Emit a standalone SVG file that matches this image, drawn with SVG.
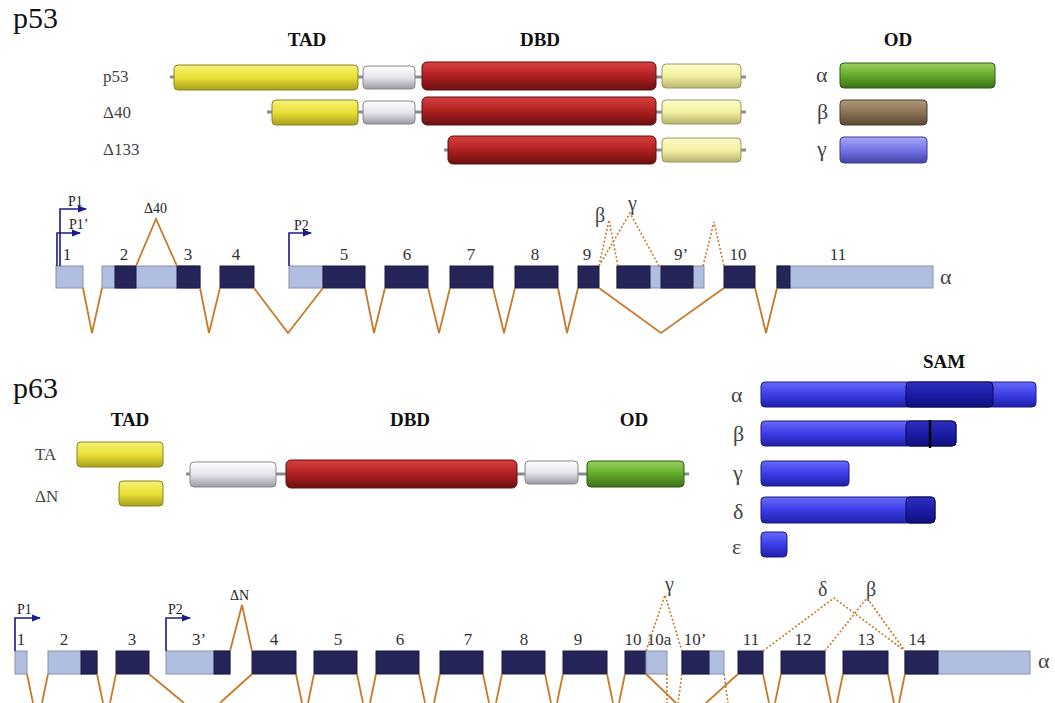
<svg xmlns="http://www.w3.org/2000/svg" width="1055" height="703" viewBox="0 0 1055 703">
<defs>
<linearGradient id="gY" x1="0" y1="0" x2="0" y2="1"><stop offset="0" stop-color="#f7f27a"/><stop offset="0.5" stop-color="#e8e034"/><stop offset="1" stop-color="#a8a020"/></linearGradient>
<linearGradient id="gW" x1="0" y1="0" x2="0" y2="1"><stop offset="0" stop-color="#ffffff"/><stop offset="0.5" stop-color="#e4e4ea"/><stop offset="1" stop-color="#9a9aa6"/></linearGradient>
<linearGradient id="gR" x1="0" y1="0" x2="0" y2="1"><stop offset="0" stop-color="#d84040"/><stop offset="0.5" stop-color="#b02020"/><stop offset="1" stop-color="#6a1010"/></linearGradient>
<linearGradient id="gLY" x1="0" y1="0" x2="0" y2="1"><stop offset="0" stop-color="#fdfcc8"/><stop offset="0.5" stop-color="#f3f0a0"/><stop offset="1" stop-color="#b8b470"/></linearGradient>
<linearGradient id="gG" x1="0" y1="0" x2="0" y2="1"><stop offset="0" stop-color="#9ad060"/><stop offset="0.5" stop-color="#62aa2a"/><stop offset="1" stop-color="#3c7018"/></linearGradient>
<linearGradient id="gBr" x1="0" y1="0" x2="0" y2="1"><stop offset="0" stop-color="#b09a7a"/><stop offset="0.5" stop-color="#8a7255"/><stop offset="1" stop-color="#5a4835"/></linearGradient>
<linearGradient id="gV" x1="0" y1="0" x2="0" y2="1"><stop offset="0" stop-color="#a8a8f8"/><stop offset="0.5" stop-color="#7474e6"/><stop offset="1" stop-color="#4444a8"/></linearGradient>
<linearGradient id="gB" x1="0" y1="0" x2="0" y2="1"><stop offset="0" stop-color="#6a6af8"/><stop offset="0.5" stop-color="#3c3ce8"/><stop offset="1" stop-color="#2020a8"/></linearGradient>
<linearGradient id="gD" x1="0" y1="0" x2="0" y2="1"><stop offset="0" stop-color="#3030c0"/><stop offset="0.5" stop-color="#1c1ca8"/><stop offset="1" stop-color="#10107a"/></linearGradient>
<marker id="arr" viewBox="0 0 8 8" refX="7" refY="4" markerWidth="6" markerHeight="6" orient="auto"><path d="M0,1 L8,4 L0,7 Z" fill="#1a1a8c"/></marker>
</defs>
<style>
text{font-family:"Liberation Serif","Times New Roman",serif;}
.big{font-size:30px;fill:#111;}
.hd{font-size:19px;font-weight:bold;fill:#111;text-anchor:middle;}
.lab{font-size:17px;fill:#444;}
.gk{font-size:22px;fill:#444;}
.num{font-size:17px;fill:#333;text-anchor:middle;}
.pr{font-size:14px;fill:#222;}
.bar{stroke-width:1;}
.lnk{stroke:#8a8a9a;stroke-width:3;}
.ex{fill:#b0bfe0;stroke:#8890a8;stroke-width:1;}
.exd{fill:#25255a;stroke:#1a1a40;stroke-width:1;}
.spl{fill:none;stroke:#c87a2a;stroke-width:1.8;}
.dot{fill:none;stroke:#c87a2a;stroke-width:1.6;stroke-dasharray:2 2;}
.prom{fill:none;stroke:#1a1a8c;stroke-width:1.6;}
</style>
<rect width="1055" height="703" fill="#fff"/>

<text class="big" x="13" y="28">p53</text>
<text class="hd" x="307" y="46">TAD</text>
<text class="hd" x="540" y="46">DBD</text>
<text class="hd" x="898" y="46">OD</text>

<g id="p53-full">
<text class="lab" x="103" y="82">p53</text>
<line class="lnk" x1="170" y1="77" x2="746" y2="77"/>
<rect class="bar" x="174" y="65" width="184" height="25" rx="4" fill="url(#gY)" stroke="#8a8418"/>
<rect class="bar" x="363" y="66" width="52" height="23" rx="4" fill="url(#gW)" stroke="#888"/>
<rect class="bar" x="422" y="62" width="234" height="28" rx="5" fill="url(#gR)" stroke="#5a1010"/>
<rect class="bar" x="662" y="64" width="79" height="24" rx="4" fill="url(#gLY)" stroke="#9a9660"/>
</g>
<g id="p53-d40">
<text class="lab" x="103" y="118">Δ40</text>
<line class="lnk" x1="267" y1="112" x2="746" y2="112"/>
<rect class="bar" x="272" y="100" width="86" height="25" rx="4" fill="url(#gY)" stroke="#8a8418"/>
<rect class="bar" x="363" y="101" width="52" height="23" rx="4" fill="url(#gW)" stroke="#888"/>
<rect class="bar" x="422" y="97" width="234" height="28" rx="5" fill="url(#gR)" stroke="#5a1010"/>
<rect class="bar" x="662" y="100" width="79" height="24" rx="4" fill="url(#gLY)" stroke="#9a9660"/>
</g>
<g id="p53-d133">
<text class="lab" x="103" y="155">Δ133</text>
<line class="lnk" x1="444" y1="150" x2="746" y2="150"/>
<rect class="bar" x="448" y="136" width="208" height="28" rx="5" fill="url(#gR)" stroke="#5a1010"/>
<rect class="bar" x="662" y="138" width="79" height="24" rx="4" fill="url(#gLY)" stroke="#9a9660"/>
</g>
<g id="p53-od">
<text class="gk" x="816" y="82">α</text>
<rect class="bar" x="840" y="63" width="155" height="25" rx="4" fill="url(#gG)" stroke="#2e5a10"/>
<text class="gk" x="817" y="119">β</text>
<rect class="bar" x="840" y="100" width="87" height="25" rx="4" fill="url(#gBr)" stroke="#4a3a28"/>
<text class="gk" x="817" y="156">γ</text>
<rect class="bar" x="840" y="137" width="87" height="26" rx="4" fill="url(#gV)" stroke="#3a3a90"/>
</g>

<g id="p53-exons">
<rect class="ex" x="56" y="266" width="27" height="22"/>
<rect class="ex" x="102" y="266" width="98" height="22"/>
<rect class="exd" x="115" y="266" width="21" height="22"/>
<rect class="exd" x="177" y="266" width="23" height="22"/>
<rect class="exd" x="220" y="266" width="34" height="22"/>
<rect class="ex" x="289" y="266" width="34" height="22"/>
<rect class="exd" x="323" y="266" width="42" height="22"/>
<rect class="exd" x="385" y="266" width="43" height="22"/>
<rect class="exd" x="450" y="266" width="43" height="22"/>
<rect class="exd" x="515" y="266" width="43" height="22"/>
<rect class="exd" x="578" y="266" width="21" height="22"/>
<rect class="ex" x="617" y="266" width="87" height="22"/>
<rect class="exd" x="617" y="266" width="33" height="22"/>
<rect class="exd" x="661" y="266" width="32" height="22"/>
<rect class="exd" x="724" y="266" width="31" height="22"/>
<rect class="ex" x="777" y="266" width="156" height="22"/>
<rect class="exd" x="777" y="266" width="13" height="22"/>
<text class="num" x="67" y="260">1</text>
<text class="num" x="124" y="260">2</text>
<text class="num" x="188" y="260">3</text>
<text class="num" x="236" y="260">4</text>
<text class="num" x="344" y="260">5</text>
<text class="num" x="407" y="260">6</text>
<text class="num" x="471" y="260">7</text>
<text class="num" x="535" y="260">8</text>
<text class="num" x="587" y="260">9</text>
<text class="num" x="681" y="260">9’</text>
<text class="num" x="738" y="260">10</text>
<text class="num" x="838" y="260">11</text>
<text class="gk" x="940" y="284">α</text>
<text class="pr" x="68" y="206">P1</text>
<text class="pr" x="69" y="229">P1’</text>
<text class="pr" x="294" y="230">P2</text>
<text class="pr" x="144" y="213">Δ40</text>
<text class="gk" x="595" y="222" style="font-size:20px">β</text>
<text class="gk" x="628" y="210" style="font-size:20px">γ</text>
</g>

<text class="big" x="13" y="398">p63</text>
<text class="hd" x="130" y="426">TAD</text>
<text class="hd" x="410" y="426">DBD</text>
<text class="hd" x="634" y="426">OD</text>
<text class="hd" x="944" y="368">SAM</text>

<g id="p63-ta">
<text class="lab" x="35" y="460">TA</text>
<rect class="bar" x="77" y="442" width="86" height="25" rx="4" fill="url(#gY)" stroke="#8a8418"/>
</g>
<g id="p63-dn">
<text class="lab" x="35" y="502">ΔN</text>
<rect class="bar" x="119" y="481" width="44" height="25" rx="4" fill="url(#gY)" stroke="#8a8418"/>
</g>
<g id="p63-core">
<line class="lnk" x1="186" y1="474" x2="689" y2="474"/>
<rect class="bar" x="190" y="462" width="86" height="25" rx="4" fill="url(#gW)" stroke="#888"/>
<rect class="bar" x="286" y="460" width="231" height="28" rx="5" fill="url(#gR)" stroke="#5a1010"/>
<rect class="bar" x="525" y="461" width="53" height="23" rx="4" fill="url(#gW)" stroke="#888"/>
<rect class="bar" x="587" y="461" width="97" height="26" rx="4" fill="url(#gG)" stroke="#2e5a10"/>
</g>
<g id="p63-ct">
<text class="gk" x="731" y="402">α</text>
<rect class="bar" x="761" y="382" width="275" height="25" rx="4" fill="url(#gB)" stroke="#1a1a80"/>
<rect class="bar" x="906" y="382" width="87" height="25" rx="4" fill="url(#gD)" stroke="#0a0a50"/>
<text class="gk" x="733" y="441">β</text>
<rect class="bar" x="761" y="421" width="195" height="25" rx="4" fill="url(#gB)" stroke="#1a1a80"/>
<rect class="bar" x="906" y="421" width="50" height="25" rx="4" fill="url(#gD)" stroke="#0a0a50"/>
<line x1="930" y1="420" x2="930" y2="448" stroke="#000" stroke-width="2.5"/>
<text class="gk" x="733" y="480">γ</text>
<rect class="bar" x="761" y="461" width="88" height="25" rx="4" fill="url(#gB)" stroke="#1a1a80"/>
<text class="gk" x="733" y="519">δ</text>
<rect class="bar" x="761" y="497" width="174" height="26" rx="4" fill="url(#gB)" stroke="#1a1a80"/>
<rect class="bar" x="906" y="497" width="29" height="26" rx="4" fill="url(#gD)" stroke="#0a0a50"/>
<text class="gk" x="732" y="554">ε</text>
<rect class="bar" x="761" y="532" width="26" height="25" rx="4" fill="url(#gB)" stroke="#1a1a80"/>
</g>

<g id="p63-exons">
<rect class="ex" x="15" y="651" width="12" height="23"/>
<rect class="ex" x="48" y="651" width="49" height="23"/>
<rect class="exd" x="81" y="651" width="16" height="23"/>
<rect class="exd" x="116" y="651" width="33" height="23"/>
<rect class="ex" x="166" y="651" width="64" height="23"/>
<rect class="exd" x="214" y="651" width="16" height="23"/>
<rect class="exd" x="252" y="651" width="44" height="23"/>
<rect class="exd" x="314" y="651" width="43" height="23"/>
<rect class="exd" x="376" y="651" width="43" height="23"/>
<rect class="exd" x="440" y="651" width="43" height="23"/>
<rect class="exd" x="502" y="651" width="43" height="23"/>
<rect class="exd" x="563" y="651" width="44" height="23"/>
<rect class="exd" x="625" y="651" width="21" height="23"/>
<rect class="ex" x="646" y="651" width="21" height="23"/>
<rect class="ex" x="682" y="651" width="42" height="23"/>
<rect class="exd" x="682" y="651" width="27" height="23"/>
<rect class="exd" x="738" y="651" width="25" height="23"/>
<rect class="exd" x="781" y="651" width="44" height="23"/>
<rect class="exd" x="843" y="651" width="45" height="23"/>
<rect class="ex" x="905" y="651" width="125" height="23"/>
<rect class="exd" x="905" y="651" width="33" height="23"/>
<text class="num" x="21" y="645">1</text>
<text class="num" x="64" y="645">2</text>
<text class="num" x="132" y="645">3</text>
<text class="num" x="199" y="645">3’</text>
<text class="num" x="274" y="645">4</text>
<text class="num" x="338" y="645">5</text>
<text class="num" x="400" y="645">6</text>
<text class="num" x="468" y="645">7</text>
<text class="num" x="524" y="645">8</text>
<text class="num" x="578" y="645">9</text>
<text class="num" x="633" y="645">10</text>
<text class="num" x="659" y="645">10a</text>
<text class="num" x="695" y="645">10’</text>
<text class="num" x="751" y="645">11</text>
<text class="num" x="803" y="645">12</text>
<text class="num" x="866" y="645">13</text>
<text class="num" x="917" y="645">14</text>
<text class="gk" x="1038" y="668">α</text>
<text class="pr" x="17" y="614">P1</text>
<text class="pr" x="168" y="614">P2</text>
<text class="pr" x="230" y="600">ΔN</text>
<text class="gk" x="665" y="591" style="font-size:20px">γ</text>
<text class="gk" x="818" y="596" style="font-size:20px">δ</text>
<text class="gk" x="866" y="596" style="font-size:20px">β</text>
</g>

<g id="connectors">
<path class="prom" d="M60,266 V209 H86" marker-end="url(#arr)"/>
<path class="prom" d="M57,266 V233 H80" marker-end="url(#arr)"/>
<path class="prom" d="M289,266 V233 H311" marker-end="url(#arr)"/>
<path class="prom" d="M15,651 V618 H40" marker-end="url(#arr)"/>
<path class="prom" d="M166,651 V618 H190" marker-end="url(#arr)"/>

<path class="spl" d="M83,288 L92,333 L102,288"/>
<path class="spl" d="M200,288 L209,333 L220,288"/>
<path class="spl" d="M254,288 L288,333 L323,288"/>
<path class="spl" d="M365,288 L374,333 L385,288"/>
<path class="spl" d="M428,288 L439,333 L450,288"/>
<path class="spl" d="M493,288 L504,333 L515,288"/>
<path class="spl" d="M558,288 L567,333 L578,288"/>
<path class="spl" d="M599,288 L661,333 L724,288"/>
<path class="spl" d="M755,288 L766,333 L777,288"/>
<path class="spl" d="M136,266 L156,219 L177,266"/>
<path class="dot" d="M599,266 L609,220 L618,266"/>
<path class="dot" d="M599,266 L630,213 L659,266"/>
<path class="dot" d="M703,266 L714,222 L724,266"/>

<path class="spl" d="M27,674 L33,703 M48,674 L42,703"/>
<path class="spl" d="M97,674 L103,703 M116,674 L110,703"/>
<path class="spl" d="M149,674 L184,703 M252,674 L220,703"/>
<path class="spl" d="M296,674 L302,703 M314,674 L308,703"/>
<path class="spl" d="M357,674 L363,703 M376,674 L370,703"/>
<path class="spl" d="M419,674 L425,703 M440,674 L434,703"/>
<path class="spl" d="M483,674 L489,703 M502,674 L496,703"/>
<path class="spl" d="M545,674 L551,703 M563,674 L557,703"/>
<path class="spl" d="M607,674 L613,703 M625,674 L619,703"/>
<path class="spl" d="M646,674 L676,703 M738,674 L706,703"/>
<path class="spl" d="M763,674 L769,703 M781,674 L775,703"/>
<path class="spl" d="M825,674 L831,703 M843,674 L837,703"/>
<path class="spl" d="M888,674 L894,703 M905,674 L899,703"/>
<path class="dot" d="M667,674 L667,703 M682,674 L678,703 M724,674 L728,703"/>
<path class="spl" d="M230,651 L242,605 L252,651"/>
<path class="dot" d="M646,651 L665,595 L682,651"/>
<path class="dot" d="M763,651 L834,598 L905,651"/>
<path class="dot" d="M825,651 L867,598 L905,651"/>
</g>
</svg>
